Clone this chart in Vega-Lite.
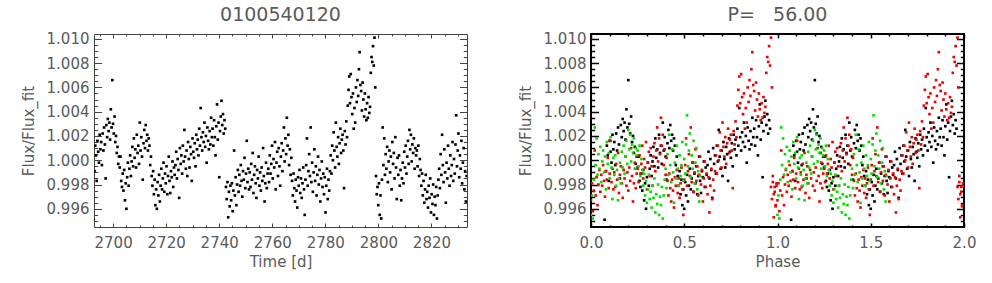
{
"$schema":"https://vega.github.io/schema/vega-lite/v6.json",
"background":"white",
"padding":{"left":20,"top":4,"right":0,"bottom":0},
"spacing":49,
"config":{
 "font":"DejaVu Sans",
 "axis":{"labelFont":"DejaVu Sans","labelFontSize":15,"labelColor":"#5a5a5a","titleFont":"DejaVu Sans","titleFontSize":15,"titleFontWeight":"normal","titleColor":"#5a5a5a","grid":false,"domain":false,"labelOverlap":false,"labelFlush":false,"labelBound":false,"tickWidth":1},
 "title":{"font":"DejaVu Sans","fontSize":19,"fontWeight":"normal","color":"#5a5a5a","offset":7},
 "view":{"stroke":null}
},
"datasets":{"lc":[
{"t":2692.6,"f":0.9951,"p":0.073},
{"t":2692.98,"f":0.9991,"p":0.08},{"t":2693.26,"f":1.0012,"p":0.085},{"t":2693.54,"f":1.0004,"p":0.09},{"t":2693.82,"f":0.9983,"p":0.095},{"t":2694.1,"f":1.0016,"p":0.1},{"t":2694.38,"f":1.0007,"p":0.105},{"t":2694.66,"f":0.9998,"p":0.11},{"t":2694.94,"f":1.0021,"p":0.115},{"t":2695.22,"f":1.0009,"p":0.12},
{"t":2695.5,"f":1.0015,"p":0.125},{"t":2695.78,"f":0.9996,"p":0.13},{"t":2696.06,"f":1.0022,"p":0.135},{"t":2696.34,"f":1.0008,"p":0.14},{"t":2696.62,"f":1.0027,"p":0.145},{"t":2696.9,"f":1.0013,"p":0.15},{"t":2697.18,"f":0.9985,"p":0.155},{"t":2697.46,"f":1.0029,"p":0.16},{"t":2697.74,"f":1.0019,"p":0.165},{"t":2698.02,"f":1.0034,"p":0.17},{"t":2698.3,"f":1.0024,"p":0.175},{"t":2698.58,"f":1.0031,"p":0.18},{"t":2698.86,"f":1.0017,"p":0.185},{"t":2699.14,"f":1.0042,"p":0.19},{"t":2699.42,"f":1.0027,"p":0.195},{"t":2699.7,"f":1.0066,"p":0.2},{"t":2699.98,"f":1.003,"p":0.205},{"t":2700.26,"f":1.0022,"p":0.21},{"t":2700.54,"f":1.0036,"p":0.215},{"t":2700.82,"f":1.0015,"p":0.22},{"t":2701.1,"f":1.002,"p":0.225},{"t":2701.38,"f":1.0006,"p":0.23},{"t":2701.66,"f":1.0011,"p":0.235},{"t":2701.94,"f":0.9997,"p":0.24},{"t":2702.22,"f":1.0003,"p":0.245},
{"t":2702.5,"f":0.9994,"p":0.25},{"t":2702.78,"f":1.0003,"p":0.255},{"t":2703.06,"f":0.9983,"p":0.26},{"t":2703.34,"f":0.9978,"p":0.265},{"t":2703.62,"f":0.9989,"p":0.27},{"t":2703.9,"f":0.9975,"p":0.275},{"t":2704.18,"f":0.9992,"p":0.28},{"t":2704.46,"f":0.9967,"p":0.285},{"t":2704.74,"f":0.9981,"p":0.29},{"t":2705.02,"f":0.996,"p":0.295},{"t":2705.3,"f":0.9986,"p":0.3},{"t":2705.58,"f":0.9998,"p":0.305},{"t":2705.86,"f":0.9979,"p":0.31},{"t":2706.14,"f":0.9993,"p":0.315},{"t":2706.42,"f":1.0004,"p":0.32},{"t":2706.7,"f":0.9987,"p":0.325},{"t":2706.98,"f":0.9999,"p":0.33},{"t":2707.26,"f":1.0011,"p":0.335},{"t":2707.54,"f":0.9995,"p":0.34},{"t":2707.82,"f":1.0018,"p":0.345},{"t":2708.1,"f":1.0002,"p":0.35},{"t":2708.38,"f":1.0009,"p":0.355},{"t":2708.66,"f":0.9994,"p":0.36},{"t":2708.94,"f":1.0021,"p":0.365},{"t":2709.22,"f":1.0006,"p":0.37},
{"t":2709.5,"f":1.0012,"p":0.375},{"t":2709.78,"f":0.9997,"p":0.38},{"t":2710.06,"f":1.0031,"p":0.385},{"t":2710.34,"f":1.0008,"p":0.39},{"t":2710.62,"f":1.0019,"p":0.395},{"t":2710.9,"f":1.0003,"p":0.4},{"t":2711.18,"f":0.9984,"p":0.405},{"t":2711.46,"f":1.0014,"p":0.41},{"t":2711.74,"f":1.0025,"p":0.415},{"t":2712.02,"f":1.001,"p":0.42},{"t":2712.3,"f":1.0029,"p":0.425},{"t":2712.58,"f":1.0016,"p":0.43},{"t":2712.86,"f":1.0021,"p":0.435},{"t":2713.14,"f":1.0008,"p":0.44},{"t":2713.42,"f":1.0018,"p":0.445},{"t":2713.7,"f":1.0012,"p":0.45},{"t":2713.98,"f":0.9996,"p":0.455},{"t":2714.26,"f":1.0003,"p":0.46},{"t":2714.54,"f":0.9987,"p":0.465},{"t":2714.82,"f":0.9979,"p":0.47},{"t":2715.1,"f":0.9991,"p":0.475},{"t":2715.38,"f":0.9972,"p":0.48},{"t":2715.66,"f":0.9984,"p":0.485},{"t":2715.94,"f":0.9963,"p":0.49},{"t":2716.22,"f":0.9976,"p":0.495},
{"t":2716.5,"f":0.996,"p":0.5},{"t":2716.78,"f":0.9982,"p":0.505},{"t":2717.06,"f":0.9971,"p":0.51},{"t":2717.34,"f":0.9988,"p":0.515},{"t":2717.62,"f":0.9966,"p":0.52},{"t":2717.9,"f":0.9979,"p":0.525},{"t":2718.18,"f":0.9993,"p":0.53},{"t":2718.46,"f":0.9976,"p":0.535},{"t":2718.74,"f":0.9985,"p":0.54},{"t":2719.02,"f":0.9998,"p":0.545},{"t":2719.3,"f":0.9974,"p":0.55},{"t":2719.58,"f":0.9989,"p":0.555},{"t":2719.86,"f":0.9981,"p":0.56},{"t":2720.14,"f":0.9995,"p":0.565},{"t":2720.42,"f":0.9972,"p":0.57},{"t":2720.7,"f":0.9987,"p":0.575},{"t":2720.98,"f":1.0003,"p":0.58},{"t":2721.26,"f":0.9983,"p":0.585},{"t":2721.54,"f":0.9973,"p":0.59},{"t":2721.82,"f":0.9991,"p":0.595},{"t":2722.1,"f":0.9986,"p":0.6},{"t":2722.38,"f":0.9999,"p":0.605},{"t":2722.66,"f":0.9978,"p":0.61},{"t":2722.94,"f":0.9994,"p":0.615},{"t":2723.22,"f":0.9988,"p":0.62},
{"t":2723.5,"f":0.9996,"p":0.625},{"t":2723.78,"f":1.0007,"p":0.63},{"t":2724.06,"f":0.9985,"p":0.635},{"t":2724.34,"f":1.0001,"p":0.64},{"t":2724.62,"f":0.9992,"p":0.645},{"t":2724.9,"f":0.9969,"p":0.65},{"t":2725.18,"f":1.001,"p":0.655},{"t":2725.46,"f":0.9997,"p":0.66},{"t":2725.74,"f":1.0004,"p":0.665},{"t":2726.02,"f":0.9989,"p":0.67},{"t":2726.3,"f":1.0012,"p":0.675},{"t":2726.58,"f":0.9999,"p":0.68},{"t":2726.86,"f":1.0025,"p":0.685},{"t":2727.14,"f":1.0003,"p":0.69},{"t":2727.42,"f":0.9993,"p":0.695},{"t":2727.7,"f":1.0008,"p":0.7},{"t":2727.98,"f":0.9987,"p":0.705},{"t":2728.26,"f":1.0015,"p":0.71},{"t":2728.54,"f":1.0001,"p":0.715},{"t":2728.82,"f":0.9994,"p":0.72},{"t":2729.1,"f":1.0011,"p":0.725},{"t":2729.38,"f":1.0005,"p":0.73},{"t":2729.66,"f":0.9983,"p":0.735},{"t":2729.94,"f":1.0018,"p":0.74},{"t":2730.22,"f":1.0007,"p":0.745},
{"t":2730.5,"f":1.0002,"p":0.75},{"t":2730.78,"f":1.0014,"p":0.755},{"t":2731.06,"f":0.9995,"p":0.76},{"t":2731.34,"f":1.0021,"p":0.765},{"t":2731.62,"f":1.0009,"p":0.77},{"t":2731.9,"f":1.0017,"p":0.775},{"t":2732.18,"f":1.0004,"p":0.78},{"t":2732.46,"f":1.0026,"p":0.785},{"t":2732.74,"f":1.0012,"p":0.79},{"t":2733.02,"f":1.0043,"p":0.795},{"t":2733.3,"f":1.0019,"p":0.8},{"t":2733.58,"f":1.0008,"p":0.805},{"t":2733.86,"f":1.0023,"p":0.81},{"t":2734.14,"f":1.0015,"p":0.815},{"t":2734.42,"f":1.0031,"p":0.82},{"t":2734.7,"f":1.0011,"p":0.825},{"t":2734.98,"f":1.002,"p":0.83},{"t":2735.26,"f":0.9998,"p":0.835},{"t":2735.54,"f":1.0027,"p":0.84},{"t":2735.82,"f":1.0016,"p":0.845},{"t":2736.1,"f":1.0009,"p":0.85},{"t":2736.38,"f":1.0024,"p":0.855},{"t":2736.66,"f":1.0013,"p":0.86},{"t":2736.94,"f":1.0035,"p":0.865},{"t":2737.22,"f":1.0019,"p":0.87},
{"t":2737.5,"f":1.0026,"p":0.875},{"t":2737.78,"f":1.0012,"p":0.88},{"t":2738.06,"f":1.0033,"p":0.885},{"t":2738.34,"f":1.0019,"p":0.89},{"t":2738.62,"f":1.0004,"p":0.895},{"t":2738.9,"f":1.0028,"p":0.9},{"t":2739.18,"f":1.0046,"p":0.905},{"t":2739.46,"f":1.0017,"p":0.91},{"t":2739.74,"f":1.0031,"p":0.915},{"t":2740.02,"f":0.9986,"p":0.92},{"t":2740.3,"f":1.0024,"p":0.925},{"t":2740.58,"f":1.0036,"p":0.93},{"t":2740.86,"f":1.0049,"p":0.935},{"t":2741.14,"f":1.0029,"p":0.94},{"t":2741.42,"f":1.0038,"p":0.945},{"t":2741.7,"f":1.0022,"p":0.95},{"t":2741.98,"f":1.0033,"p":0.955},{"t":2742.26,"f":1.0026,"p":0.96},{"t":2742.54,"f":0.9978,"p":0.965},{"t":2742.82,"f":0.9968,"p":0.97},{"t":2743.1,"f":0.9982,"p":0.975},{"t":2743.38,"f":0.9953,"p":0.98},{"t":2743.66,"f":0.9974,"p":0.985},{"t":2743.94,"f":0.9962,"p":0.99},{"t":2744.22,"f":0.9979,"p":0.995},
{"t":2744.5,"f":0.9967,"p":0},{"t":2744.78,"f":0.9981,"p":0.005},{"t":2745.06,"f":0.9958,"p":0.01},{"t":2745.34,"f":0.9975,"p":0.015},{"t":2745.62,"f":1.0008,"p":0.02},{"t":2745.9,"f":0.9971,"p":0.025},{"t":2746.18,"f":0.9986,"p":0.03},{"t":2746.46,"f":0.9963,"p":0.035},{"t":2746.74,"f":0.998,"p":0.04},{"t":2747.02,"f":0.9992,"p":0.045},{"t":2747.3,"f":0.9974,"p":0.05},{"t":2747.58,"f":0.9988,"p":0.055},{"t":2747.86,"f":0.9979,"p":0.06},{"t":2748.14,"f":0.9996,"p":0.065},{"t":2748.42,"f":0.9983,"p":0.07},{"t":2748.7,"f":0.997,"p":0.075},{"t":2748.98,"f":0.9991,"p":0.08},{"t":2749.26,"f":0.9984,"p":0.085},{"t":2749.54,"f":1.0002,"p":0.09},{"t":2749.82,"f":0.9977,"p":0.095},{"t":2750.1,"f":0.9989,"p":0.1},{"t":2750.38,"f":1.0016,"p":0.105},{"t":2750.66,"f":0.9982,"p":0.11},{"t":2750.94,"f":0.9993,"p":0.115},{"t":2751.22,"f":0.9976,"p":0.12},
{"t":2751.5,"f":0.999,"p":0.125},{"t":2751.78,"f":0.9978,"p":0.13},{"t":2752.06,"f":0.9997,"p":0.135},{"t":2752.34,"f":0.9984,"p":0.14},{"t":2752.62,"f":1.0006,"p":0.145},{"t":2752.9,"f":0.9973,"p":0.15},{"t":2753.18,"f":0.9988,"p":0.155},{"t":2753.46,"f":0.9995,"p":0.16},{"t":2753.74,"f":0.9981,"p":0.165},{"t":2754.02,"f":0.9969,"p":0.17},{"t":2754.3,"f":0.9992,"p":0.175},{"t":2754.58,"f":0.9985,"p":0.18},{"t":2754.86,"f":1.0003,"p":0.185},{"t":2755.14,"f":0.9979,"p":0.19},{"t":2755.42,"f":0.999,"p":0.195},{"t":2755.7,"f":0.9975,"p":0.2},{"t":2755.98,"f":0.9994,"p":0.205},{"t":2756.26,"f":0.9983,"p":0.21},{"t":2756.54,"f":1.001,"p":0.215},{"t":2756.82,"f":0.9987,"p":0.22},{"t":2757.1,"f":0.9966,"p":0.225},{"t":2757.38,"f":0.9981,"p":0.23},{"t":2757.66,"f":0.9998,"p":0.235},{"t":2757.94,"f":0.9977,"p":0.24},{"t":2758.22,"f":0.9989,"p":0.245},
{"t":2758.5,"f":0.9993,"p":0.25},{"t":2758.78,"f":0.9982,"p":0.255},{"t":2759.06,"f":1.0004,"p":0.26},{"t":2759.34,"f":0.9989,"p":0.265},{"t":2759.62,"f":0.9997,"p":0.27},{"t":2759.9,"f":1.0012,"p":0.275},{"t":2760.18,"f":0.9985,"p":0.28},{"t":2760.46,"f":1.0001,"p":0.285},{"t":2760.74,"f":0.9994,"p":0.29},{"t":2761.02,"f":1.0015,"p":0.295},{"t":2761.3,"f":0.9976,"p":0.3},{"t":2761.58,"f":0.9998,"p":0.305},{"t":2761.86,"f":1.0007,"p":0.31},{"t":2762.14,"f":0.9987,"p":0.315},{"t":2762.42,"f":1.001,"p":0.32},{"t":2762.7,"f":0.9995,"p":0.325},{"t":2762.98,"f":0.9979,"p":0.33},{"t":2763.26,"f":1.0003,"p":0.335},{"t":2763.54,"f":1.0014,"p":0.34},{"t":2763.82,"f":0.9991,"p":0.345},{"t":2764.1,"f":1.0008,"p":0.35},{"t":2764.38,"f":1.0027,"p":0.355},{"t":2764.66,"f":0.9999,"p":0.36},{"t":2764.94,"f":1.0018,"p":0.365},{"t":2765.22,"f":1.0005,"p":0.37},
{"t":2765.5,"f":1.0035,"p":0.375},{"t":2765.78,"f":1.0012,"p":0.38},{"t":2766.06,"f":1.0021,"p":0.385},{"t":2766.34,"f":0.9996,"p":0.39},{"t":2766.62,"f":1.0009,"p":0.395},{"t":2766.9,"f":0.9988,"p":0.4},{"t":2767.18,"f":1.0002,"p":0.405},{"t":2767.46,"f":0.9983,"p":0.41},{"t":2767.74,"f":0.9971,"p":0.415},{"t":2768.02,"f":0.9989,"p":0.42},{"t":2768.3,"f":0.9977,"p":0.425},{"t":2768.58,"f":0.9966,"p":0.43},{"t":2768.86,"f":0.9984,"p":0.435},{"t":2769.14,"f":0.9975,"p":0.44},{"t":2769.42,"f":0.9961,"p":0.445},{"t":2769.7,"f":0.9986,"p":0.45},{"t":2769.98,"f":0.9979,"p":0.455},{"t":2770.26,"f":0.9992,"p":0.46},{"t":2770.54,"f":0.9973,"p":0.465},{"t":2770.82,"f":0.9985,"p":0.47},{"t":2771.1,"f":0.9969,"p":0.475},{"t":2771.38,"f":0.9981,"p":0.48},{"t":2771.66,"f":0.9994,"p":0.485},{"t":2771.94,"f":0.9976,"p":0.49},{"t":2772.22,"f":0.9955,"p":0.495},
{"t":2772.5,"f":0.9984,"p":0.5},{"t":2772.78,"f":0.9996,"p":0.505},{"t":2773.06,"f":1.0018,"p":0.51},{"t":2773.34,"f":0.9979,"p":0.515},{"t":2773.62,"f":0.9991,"p":0.52},{"t":2773.9,"f":1.0005,"p":0.525},{"t":2774.18,"f":0.9987,"p":0.53},{"t":2774.46,"f":1.0027,"p":0.535},{"t":2774.74,"f":0.9982,"p":0.54},{"t":2775.02,"f":0.9998,"p":0.545},{"t":2775.3,"f":0.9974,"p":0.55},{"t":2775.58,"f":0.999,"p":0.555},{"t":2775.86,"f":1.0009,"p":0.56},{"t":2776.14,"f":0.9983,"p":0.565},{"t":2776.42,"f":0.9995,"p":0.57},{"t":2776.7,"f":0.9971,"p":0.575},{"t":2776.98,"f":0.9988,"p":0.58},{"t":2777.26,"f":1.0003,"p":0.585},{"t":2777.54,"f":0.998,"p":0.59},{"t":2777.82,"f":0.9992,"p":0.595},{"t":2778.1,"f":0.9966,"p":0.6},{"t":2778.38,"f":0.9985,"p":0.605},{"t":2778.66,"f":0.9999,"p":0.61},{"t":2778.94,"f":0.9978,"p":0.615},{"t":2779.22,"f":0.9989,"p":0.62},
{"t":2779.5,"f":0.9972,"p":0.625},{"t":2779.78,"f":0.9986,"p":0.63},{"t":2780.06,"f":0.9957,"p":0.635},{"t":2780.34,"f":0.9979,"p":0.64},{"t":2780.62,"f":0.9993,"p":0.645},{"t":2780.9,"f":0.9968,"p":0.65},{"t":2781.18,"f":0.9984,"p":0.655},{"t":2781.46,"f":0.9975,"p":0.66},{"t":2781.74,"f":0.9991,"p":0.665},{"t":2782.02,"f":1.0004,"p":0.67},{"t":2782.3,"f":0.9989,"p":0.675},{"t":2782.58,"f":1.0012,"p":0.68},{"t":2782.86,"f":1.0,"p":0.685},{"t":2783.14,"f":1.0023,"p":0.69},{"t":2783.42,"f":1.0008,"p":0.695},{"t":2783.7,"f":0.9994,"p":0.7},{"t":2783.98,"f":1.0031,"p":0.705},{"t":2784.26,"f":1.0011,"p":0.71},{"t":2784.54,"f":1.0003,"p":0.715},{"t":2784.82,"f":1.0019,"p":0.72},{"t":2785.1,"f":0.9997,"p":0.725},{"t":2785.38,"f":1.0014,"p":0.73},{"t":2785.66,"f":1.0026,"p":0.735},{"t":2785.94,"f":1.0006,"p":0.74},{"t":2786.22,"f":1.0017,"p":0.745},
{"t":2786.5,"f":1.0021,"p":0.75},{"t":2786.78,"f":1.0008,"p":0.755},{"t":2787.06,"f":0.9977,"p":0.76},{"t":2787.34,"f":1.0024,"p":0.765},{"t":2787.62,"f":1.0013,"p":0.77},{"t":2787.9,"f":1.0032,"p":0.775},{"t":2788.18,"f":1.0019,"p":0.78},{"t":2788.46,"f":1.0045,"p":0.785},{"t":2788.74,"f":1.0058,"p":0.79},{"t":2789.02,"f":1.0069,"p":0.795},{"t":2789.3,"f":1.0047,"p":0.8},{"t":2789.58,"f":1.0071,"p":0.805},{"t":2789.86,"f":1.0052,"p":0.81},{"t":2790.14,"f":1.0038,"p":0.815},{"t":2790.42,"f":1.0055,"p":0.82},{"t":2790.7,"f":1.0026,"p":0.825},{"t":2790.98,"f":1.0043,"p":0.83},{"t":2791.26,"f":1.0031,"p":0.835},{"t":2791.54,"f":1.006,"p":0.84},{"t":2791.82,"f":1.0048,"p":0.845},{"t":2792.1,"f":1.0066,"p":0.85},{"t":2792.38,"f":1.0053,"p":0.855},{"t":2792.66,"f":1.0075,"p":0.86},{"t":2792.94,"f":1.0089,"p":0.865},{"t":2793.22,"f":1.0062,"p":0.87},
{"t":2793.5,"f":1.0057,"p":0.875},{"t":2793.78,"f":1.0041,"p":0.88},{"t":2794.06,"f":1.0064,"p":0.885},{"t":2794.34,"f":1.005,"p":0.89},{"t":2794.62,"f":1.0036,"p":0.895},{"t":2794.9,"f":1.0055,"p":0.9},{"t":2795.18,"f":1.0042,"p":0.905},{"t":2795.46,"f":1.0033,"p":0.91},{"t":2795.74,"f":1.0047,"p":0.915},{"t":2796.02,"f":1.0035,"p":0.92},{"t":2796.3,"f":1.0052,"p":0.925},{"t":2796.58,"f":1.0039,"p":0.93},{"t":2796.86,"f":1.0044,"p":0.935},{"t":2797.14,"f":1.0072,"p":0.94},{"t":2797.42,"f":1.0085,"p":0.945},{"t":2797.7,"f":1.0081,"p":0.95},{"t":2797.98,"f":1.0094,"p":0.955},{"t":2798.26,"f":1.0078,"p":0.96},{"t":2798.54,"f":1.0101,"p":0.965},{"t":2798.82,"f":1.006,"p":0.97},{"t":2799.1,"f":0.9987,"p":0.975},{"t":2799.38,"f":0.9972,"p":0.98},{"t":2799.66,"f":0.9978,"p":0.985},{"t":2799.94,"f":0.9963,"p":0.99},{"t":2800.22,"f":0.9981,"p":0.995},
{"t":2800.5,"f":0.9955,"p":0},{"t":2800.78,"f":0.9971,"p":0.005},{"t":2801.06,"f":0.9952,"p":0.01},{"t":2801.34,"f":0.9984,"p":0.015},{"t":2801.62,"f":1.0027,"p":0.02},{"t":2801.9,"f":0.9996,"p":0.025},{"t":2802.18,"f":1.0018,"p":0.03},{"t":2802.46,"f":0.9988,"p":0.035},{"t":2802.74,"f":1.0005,"p":0.04},{"t":2803.02,"f":0.9993,"p":0.045},{"t":2803.3,"f":1.0011,"p":0.05},{"t":2803.58,"f":0.9982,"p":0.055},{"t":2803.86,"f":0.9999,"p":0.06},{"t":2804.14,"f":1.0008,"p":0.065},{"t":2804.42,"f":0.999,"p":0.07},{"t":2804.7,"f":1.0003,"p":0.075},{"t":2804.98,"f":0.9976,"p":0.08},{"t":2805.26,"f":1.0015,"p":0.085},{"t":2805.54,"f":0.9997,"p":0.09},{"t":2805.82,"f":1.0006,"p":0.095},{"t":2806.1,"f":0.9985,"p":0.1},{"t":2806.38,"f":1.0019,"p":0.105},{"t":2806.66,"f":0.9994,"p":0.11},{"t":2806.94,"f":0.9968,"p":0.115},{"t":2807.22,"f":1.0002,"p":0.12},
{"t":2807.5,"f":0.9988,"p":0.125},{"t":2807.78,"f":1.0004,"p":0.13},{"t":2808.06,"f":0.9979,"p":0.135},{"t":2808.34,"f":0.9992,"p":0.14},{"t":2808.62,"f":0.9967,"p":0.145},{"t":2808.9,"f":0.9985,"p":0.15},{"t":2809.18,"f":0.9998,"p":0.155},{"t":2809.46,"f":0.9981,"p":0.16},{"t":2809.74,"f":1.0007,"p":0.165},{"t":2810.02,"f":0.9994,"p":0.17},{"t":2810.3,"f":1.0012,"p":0.175},{"t":2810.58,"f":0.9989,"p":0.18},{"t":2810.86,"f":1.0003,"p":0.185},{"t":2811.14,"f":1.0016,"p":0.19},{"t":2811.42,"f":0.9997,"p":0.195},{"t":2811.7,"f":1.0025,"p":0.2},{"t":2811.98,"f":1.0009,"p":0.205},{"t":2812.26,"f":1.0021,"p":0.21},{"t":2812.54,"f":0.9999,"p":0.215},{"t":2812.82,"f":1.0013,"p":0.22},{"t":2813.1,"f":1.0006,"p":0.225},{"t":2813.38,"f":1.0018,"p":0.23},{"t":2813.66,"f":0.9993,"p":0.235},{"t":2813.94,"f":1.001,"p":0.24},{"t":2814.22,"f":1.0004,"p":0.245},
{"t":2814.5,"f":1.0008,"p":0.25},{"t":2814.78,"f":0.9995,"p":0.255},{"t":2815.06,"f":1.0012,"p":0.26},{"t":2815.34,"f":0.9987,"p":0.265},{"t":2815.62,"f":1.0001,"p":0.27},{"t":2815.9,"f":0.9992,"p":0.275},{"t":2816.18,"f":0.9979,"p":0.28},{"t":2816.46,"f":0.9989,"p":0.285},{"t":2816.74,"f":0.9971,"p":0.29},{"t":2817.02,"f":0.9983,"p":0.295},{"t":2817.3,"f":0.9965,"p":0.3},{"t":2817.58,"f":0.9976,"p":0.305},{"t":2817.86,"f":0.9988,"p":0.31},{"t":2818.14,"f":0.9968,"p":0.315},{"t":2818.42,"f":0.9974,"p":0.32},{"t":2818.7,"f":0.9961,"p":0.325},{"t":2818.98,"f":0.9979,"p":0.33},{"t":2819.26,"f":0.9969,"p":0.335},{"t":2819.54,"f":0.9985,"p":0.34},{"t":2819.82,"f":0.9957,"p":0.345},{"t":2820.1,"f":0.9972,"p":0.35},{"t":2820.38,"f":0.9964,"p":0.355},{"t":2820.66,"f":0.998,"p":0.36},{"t":2820.94,"f":0.9955,"p":0.365},{"t":2821.22,"f":0.997,"p":0.37},
{"t":2821.5,"f":0.9963,"p":0.375},{"t":2821.78,"f":0.9978,"p":0.38},{"t":2822.06,"f":0.9952,"p":0.385},{"t":2822.34,"f":0.9971,"p":0.39},{"t":2822.62,"f":0.9984,"p":0.395},{"t":2822.9,"f":0.9993,"p":0.4},{"t":2823.18,"f":0.9977,"p":0.405},{"t":2823.46,"f":1.0005,"p":0.41},{"t":2823.74,"f":0.9988,"p":0.415},{"t":2824.02,"f":1.0021,"p":0.42},{"t":2824.3,"f":0.9996,"p":0.425},{"t":2824.58,"f":0.9982,"p":0.43},{"t":2824.86,"f":1.0009,"p":0.435},{"t":2825.14,"f":0.999,"p":0.44},{"t":2825.42,"f":0.9965,"p":0.445},{"t":2825.7,"f":0.9998,"p":0.45},{"t":2825.98,"f":0.9985,"p":0.455},{"t":2826.26,"f":1.0012,"p":0.46},{"t":2826.54,"f":0.9993,"p":0.465},{"t":2826.82,"f":0.9979,"p":0.47},{"t":2827.1,"f":1.0004,"p":0.475},{"t":2827.38,"f":0.9987,"p":0.48},{"t":2827.66,"f":0.9996,"p":0.485},{"t":2827.94,"f":1.0015,"p":0.49},{"t":2828.22,"f":0.9983,"p":0.495},
{"t":2828.5,"f":1.0001,"p":0.5},{"t":2828.78,"f":0.9989,"p":0.505},{"t":2829.06,"f":1.0013,"p":0.51},{"t":2829.34,"f":1.0037,"p":0.515},{"t":2829.62,"f":0.9995,"p":0.52},{"t":2829.9,"f":1.0008,"p":0.525},{"t":2830.18,"f":1.0022,"p":0.53},{"t":2830.46,"f":0.9986,"p":0.535},{"t":2830.74,"f":1.0004,"p":0.54},{"t":2831.02,"f":0.9993,"p":0.545},{"t":2831.3,"f":1.0016,"p":0.55},{"t":2831.58,"f":0.9981,"p":0.555},{"t":2831.86,"f":0.9998,"p":0.56},{"t":2832.14,"f":1.001,"p":0.565},{"t":2832.42,"f":0.9976,"p":0.57},{"t":2832.7,"f":0.9991,"p":0.575},{"t":2832.98,"f":0.9966,"p":0.58},{"t":2833.26,"f":0.9987,"p":0.585}
]},
"hconcat":[
 {
  "width":373,"height":193,
  "view":{"stroke":"#444","strokeWidth":1},
  "title":{"text":"0100540120","fontSize":19},
  "data":{"name":"lc"},
  "layer":[
   {"mark":{"type":"point","shape":"square","filled":true,"size":7,"color":"#000","opacity":1,"strokeWidth":0,"clip":true},
    "encoding":{
     "x":{"field":"t","type":"quantitative","scale":{"domain":[2692.8,2833.4],"nice":false,"zero":false},
      "axis":{"orient":"bottom","title":"Time [d]","values":[2695,2700,2705,2710,2715,2720,2725,2730,2735,2740,2745,2750,2755,2760,2765,2770,2775,2780,2785,2790,2795,2800,2805,2810,2815,2820,2825,2830],"format":"d","labelExpr":"datum.value % 20 === 0 ? datum.label : ''","tickSize":{"condition":{"test":"datum.value % 20 === 0","value":-4},"value":-2},"labelPadding":12,"titlePadding":2,"tickColor":"#444"}},
     "y":{"field":"f","type":"quantitative","scale":{"domain":[0.9945,1.0104],"nice":false,"zero":false},
      "axis":{"orient":"left","title":"Flux/Flux_fit","values":[0.995,0.9955,0.996,0.9965,0.997,0.9975,0.998,0.9985,0.999,0.9995,1,1.0005,1.001,1.0015,1.002,1.0025,1.003,1.0035,1.004,1.0045,1.005,1.0055,1.006,1.0065,1.007,1.0075,1.008,1.0085,1.009,1.0095,1.01],"format":".3f","labelExpr":"round(datum.value*2000) % 4 === 0 ? datum.label : ''","tickSize":{"condition":{"test":"round(datum.value*2000) % 4 === 0","value":-7.5},"value":-3.7},"labelPadding":12.5,"titlePadding":10,"tickColor":"#444"}}
    }},
   {"data":{"values":[]},"mark":{"type":"point","opacity":0},
    "encoding":{
     "x":{"field":"t","type":"quantitative","axis":{"orient":"top","labels":false,"title":null,"values":[2695,2700,2705,2710,2715,2720,2725,2730,2735,2740,2745,2750,2755,2760,2765,2770,2775,2780,2785,2790,2795,2800,2805,2810,2815,2820,2825,2830],"tickSize":{"condition":{"test":"datum.value % 20 === 0","value":-4},"value":-2},"tickColor":"#444"}},
     "y":{"field":"f","type":"quantitative","axis":{"orient":"right","labels":false,"title":null,"values":[0.995,0.9955,0.996,0.9965,0.997,0.9975,0.998,0.9985,0.999,0.9995,1,1.0005,1.001,1.0015,1.002,1.0025,1.003,1.0035,1.004,1.0045,1.005,1.0055,1.006,1.0065,1.007,1.0075,1.008,1.0085,1.009,1.0095,1.01],"tickSize":{"condition":{"test":"round(datum.value*2000) % 4 === 0","value":-7.5},"value":-3.7},"tickColor":"#444"}}
    }}
  ],
  "resolve":{"axis":{"x":"independent","y":"independent"}}
 },
 {
  "width":373,"height":193,
  "view":{"stroke":"#000","strokeWidth":2},
  "title":{"text":"P=\u00a0\u00a0\u00a056.00","fontSize":19},
  "data":{"name":"lc"},
  "layer":[
   {"mark":{"type":"point","shape":"square","filled":true,"size":7,"opacity":1,"strokeWidth":0,"clip":true},
    "encoding":{
     "x":{"field":"p","type":"quantitative","scale":{"domain":[0,2],"nice":false,"zero":false},
      "axis":{"orient":"bottom","title":"Phase","values":[0,0.1,0.2,0.3,0.4,0.5,0.6,0.7,0.8,0.9,1,1.1,1.2,1.3,1.4,1.5,1.6,1.7,1.8,1.9,2],"format":".1f","labelExpr":"round(datum.value*10) % 5 === 0 ? datum.label : ''","tickSize":{"condition":{"test":"round(datum.value*10) % 5 === 0","value":-4},"value":-2},"labelPadding":12,"titlePadding":2,"tickColor":"#000","tickWidth":1.5}},
     "y":{"field":"f","type":"quantitative","scale":{"domain":[0.9945,1.0104],"nice":false,"zero":false},
      "axis":{"orient":"left","title":"Flux/Flux_fit","values":[0.995,0.9955,0.996,0.9965,0.997,0.9975,0.998,0.9985,0.999,0.9995,1,1.0005,1.001,1.0015,1.002,1.0025,1.003,1.0035,1.004,1.0045,1.005,1.0055,1.006,1.0065,1.007,1.0075,1.008,1.0085,1.009,1.0095,1.01],"format":".3f","labelExpr":"round(datum.value*2000) % 4 === 0 ? datum.label : ''","tickSize":{"condition":{"test":"round(datum.value*2000) % 4 === 0","value":-7.5},"value":-3.7},"labelPadding":12.5,"titlePadding":10,"tickColor":"#000","tickWidth":1.5}},
     "color":{"condition":[{"test":"datum.t < 2742.4","value":"#000000"},{"test":"datum.t < 2800.4","value":"#f00000"}],"value":"#00e000"}
    }},
   {"mark":{"type":"point","shape":"square","filled":true,"size":7,"opacity":1,"strokeWidth":0,"clip":true},
    "encoding":{
     "x":{"field":"p","type":"quantitative","scale":{"domain":[-1,1],"nice":false,"zero":false},"axis":null},
     "y":{"field":"f","type":"quantitative","axis":null},
     "color":{"condition":[{"test":"datum.t < 2742.4","value":"#000000"},{"test":"datum.t < 2800.4","value":"#f00000"}],"value":"#00e000"}
    }},
   {"data":{"values":[]},"mark":{"type":"point","opacity":0},
    "encoding":{
     "x":{"field":"p","type":"quantitative","scale":{"domain":[0,2],"nice":false,"zero":false},"axis":{"orient":"top","labels":false,"title":null,"values":[0,0.1,0.2,0.3,0.4,0.5,0.6,0.7,0.8,0.9,1,1.1,1.2,1.3,1.4,1.5,1.6,1.7,1.8,1.9,2],"tickSize":{"condition":{"test":"round(datum.value*10) % 5 === 0","value":-4},"value":-2},"tickColor":"#000","tickWidth":1.5}},
     "y":{"field":"f","type":"quantitative","axis":{"orient":"right","labels":false,"title":null,"values":[0.995,0.9955,0.996,0.9965,0.997,0.9975,0.998,0.9985,0.999,0.9995,1,1.0005,1.001,1.0015,1.002,1.0025,1.003,1.0035,1.004,1.0045,1.005,1.0055,1.006,1.0065,1.007,1.0075,1.008,1.0085,1.009,1.0095,1.01],"tickSize":{"condition":{"test":"round(datum.value*2000) % 4 === 0","value":-7.5},"value":-3.7},"tickColor":"#000","tickWidth":1.5}}
    }}
  ],
  "resolve":{"scale":{"x":"independent"},"axis":{"x":"independent","y":"independent"}}
 }
]
}
